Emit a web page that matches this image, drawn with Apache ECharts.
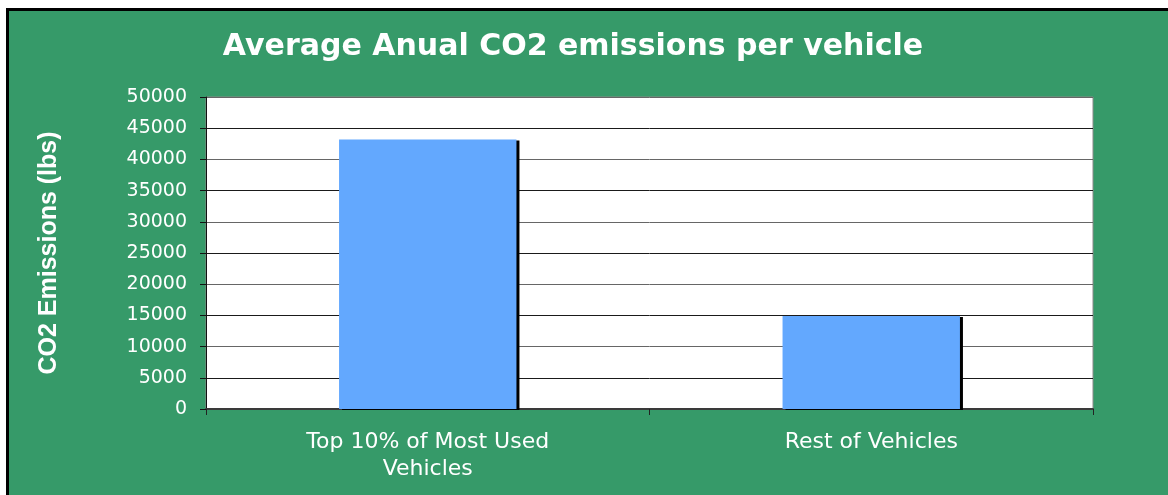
<!DOCTYPE html>
<html>
<head>
<meta charset="utf-8">
<script src="https://cdn.jsdelivr.net/npm/echarts@6/dist/echarts.min.js"></script>
<style>
  html, body { margin: 0; padding: 0; background: #ffffff; }
  #chart { width: 1168px; height: 495px; }
</style>
</head>
<body>
<div id="chart"></div>
<script>
// Chart content
const titleText = 'Average Anual CO2 emissions per vehicle';
const yAxisTitle = 'CO2 Emissions (lbs)';
const categories = ['Top 10% of Most Used\nVehicles', 'Rest of Vehicles'];
const emissions = [43200, 14900];
const yMin = 0;
const yMax = 50000;
const yStep = 5000;

const chart = echarts.init(document.getElementById('chart'), null, { renderer: 'canvas' });

chart.setOption({
  backgroundColor: '#ffffff',
  animation: false,
  graphic: [
    {
      // green chart area, running past the right and bottom edges
      type: 'rect',
      z: -10,
      shape: { x: 6, y: 8, width: 1300, height: 600 },
      style: { fill: '#369A69' },
      silent: true
    },
    {
      // black edge along the top
      type: 'line',
      z: -9,
      shape: { x1: 6, y1: 9.5, x2: 1168, y2: 9.5 },
      style: { stroke: '#000000', lineWidth: 3 },
      silent: true
    },
    {
      // black edge along the left
      type: 'line',
      z: -9,
      shape: { x1: 7.5, y1: 8, x2: 7.5, y2: 495 },
      style: { stroke: '#000000', lineWidth: 3 },
      silent: true
    }
  ],
  title: {
    text: titleText,
    left: 568,
    top: 27,
    textAlign: 'center',
    textStyle: {
      color: '#ffffff',
      fontFamily: 'DejaVu Sans',
      fontWeight: 'bold',
      fontSize: 30
    }
  },
  grid: {
    left: 206,
    right: 75,
    top: 97,
    bottom: 86,
    show: true,
    backgroundColor: '#ffffff',
    borderColor: '#8a8a8a',
    borderWidth: 1
  },
  xAxis: {
    type: 'category',
    data: categories,
    axisLine: { show: true, lineStyle: { color: '#3a3a3a', width: 2 } },
    axisTick: { show: true, inside: false, length: 6, lineStyle: { color: '#222222', width: 1 } },
    axisLabel: {
      color: '#ffffff',
      fontFamily: 'DejaVu Sans',
      fontSize: 22,
      lineHeight: 27,
      margin: 20
    },
    splitLine: { show: false }
  },
  yAxis: {
    type: 'value',
    min: yMin,
    max: yMax,
    interval: yStep,
    name: yAxisTitle,
    nameLocation: 'middle',
    nameGap: 144,
    nameRotate: 90,
    nameTextStyle: {
      color: '#ffffff',
      fontFamily: 'Liberation Sans',
      fontWeight: 'bold',
      fontSize: 25
    },
    axisLine: { show: true, lineStyle: { color: '#111111', width: 1 } },
    axisTick: { show: true, inside: false, length: 6, lineStyle: { color: '#111111' } },
    axisLabel: {
      color: '#ffffff',
      fontFamily: 'DejaVu Sans',
      fontSize: 19,
      margin: 19,
      formatter: (v) => String(v)
    },
    splitLine: {
      show: true,
      lineStyle: { color: ['#666666', '#1a1a1a'], width: 1 }
    }
  },
  series: [
    {
      type: 'bar',
      data: emissions,
      barWidth: '40%',
      itemStyle: {
        color: '#63A8FE',
        shadowColor: '#000000',
        shadowBlur: 0,
        shadowOffsetX: 3,
        shadowOffsetY: 1
      }
    }
  ]
});
</script>
</body>
</html>
